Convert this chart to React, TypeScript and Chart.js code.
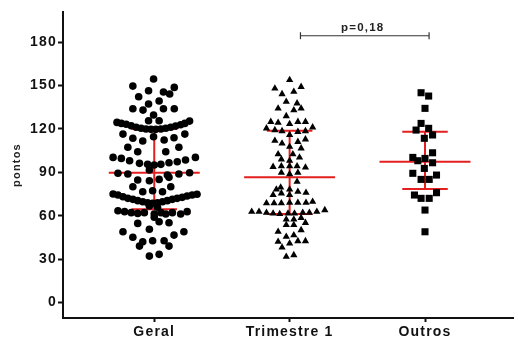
import { useEffect, useRef } from 'react';
import { Chart, registerables } from 'chart.js';

Chart.register(...registerables);

const categories = ['Geral', 'Trimestre 1', 'Outros'];
const yTicks = [0, 30, 60, 90, 120, 150, 180];
const yAxisTitle = 'pontos';

const geralValues = [
  154.5, 149.6, 148.7, 146.4, 145.5, 144.1, 142.2, 139.3, 137.2, 133.9, 133.0, 133.9, 133.9, 129.6, 125.6, 125.6,
  124.5, 123.8, 123.2, 122.2, 121.1, 120.4, 119.9, 119.7, 119.7, 119.9, 120.4, 121.1, 122.0, 122.9, 123.8, 125.4,
  116.4, 113.5, 111.6, 114.6, 112.3, 113.9, 116.4,
  107.3, 104.2, 104.2, 107.3,
  100.3, 99.6, 98.0, 96.2, 95.5, 95.0, 95.5, 96.6, 97.3, 98.5, 100.3,
  91.6, 89.3, 88.8, 88.1, 88.8, 89.7,
  84.7, 84.2, 85.1, 86.5,
  80.0, 76.6, 77.3, 76.6, 80.0,
  75.0, 74.3, 73.1, 72.0, 71.3, 70.4, 69.7, 69.0, 68.6, 69.0, 69.7, 70.4, 71.3, 72.0, 72.7, 73.6, 74.3, 74.8,
  66.7, 65.8,
  63.4, 62.8, 62.1, 61.6, 62.1, 61.2, 62.1, 61.2, 62.1, 61.2, 62.8,
  58.9,
  54.7, 55.8, 55.1,
  50.6, 48.9, 48.9,
  45.1, 46.6,
  42.0, 42.7, 42.7,
  39.0, 39.0,
  32.1, 33.3,
];
const geralJitter = [
  -0.005, -0.158, 0.148, -0.042, 0.068, 0.114, -0.115, 0.036, -0.042, -0.158, -0.083, 0.068, 0.148, -0.005, -0.042, 0.036,
  -0.275, -0.243, -0.207, -0.170, -0.134, -0.097, -0.061, -0.024, 0.012, 0.049, 0.085, 0.122, 0.158, 0.195, 0.226, 0.261,
  -0.231, -0.158, -0.085, -0.005, 0.073, 0.146, 0.226,
  -0.195, -0.122, 0.085, 0.182,
  -0.304, -0.243, -0.182, -0.109, -0.049, 0.0, 0.049, 0.109, 0.170, 0.231, 0.304,
  -0.036, -0.268, -0.195, 0.097, 0.182, 0.261,
  -0.122, -0.036, 0.036, 0.109,
  -0.158, -0.085, -0.012, 0.061, 0.122,
  -0.304, -0.268, -0.231, -0.195, -0.158, -0.122, -0.085, -0.049, -0.012, 0.024, 0.061, 0.097, 0.134, 0.170, 0.207, 0.243, 0.280, 0.316,
  -0.036, 0.024,
  -0.268, -0.219, -0.170, -0.122, -0.073, 0.0, 0.049, 0.085, 0.134, 0.195, 0.243,
  0.0,
  -0.122, 0.036, 0.109,
  -0.036, -0.231, 0.219,
  -0.158, 0.146,
  -0.085, -0.012, 0.073,
  -0.109, 0.109,
  -0.036, 0.036,
];

const trimestreValues = [
  153.8, 148.0, 149.1, 144.1, 145.7, 138.8, 137.7, 134.2, 133.0, 134.2, 128.9,
  124.9, 124.3, 123.4, 124.9, 124.9,
  120.4, 119.2, 118.5, 118.0, 118.5, 121.1,
  111.8, 110.0, 115.8, 111.1, 112.8, 107.7, 106.6,
  102.6, 102.6, 100.3, 99.0, 98.0,
  93.8, 94.3, 94.3, 94.3, 93.4,
  89.7, 88.8, 89.7, 83.5,
  78.2, 79.6, 78.2, 76.6, 75.9, 74.3, 75.5, 74.3,
  68.6, 68.6, 68.6, 69.0, 69.0, 69.0, 69.7,
  62.8, 62.8, 62.1, 61.6, 61.2, 61.6, 61.6, 62.1, 62.1, 62.8, 63.9,
  57.5, 57.5, 58.5,
  55.1, 53.6, 53.6, 48.9, 45.5, 46.6, 50.1, 42.0, 40.9, 42.5, 42.5, 38.1, 31.7, 32.8,
];
const trimestreJitter = [
  0.0, -0.109, 0.085, -0.056, 0.031, -0.025, 0.055, -0.085, 0.031, 0.085, -0.025,
  -0.139, -0.085, 0.0, 0.061, 0.117,
  -0.171, -0.109, -0.056, 0.061, 0.117, 0.170,
  -0.109, -0.056, 0.0, 0.061, 0.117, 0.0, 0.085,
  -0.085, 0.024, 0.073, -0.061, 0.0,
  -0.122, -0.061, 0.0, 0.055, 0.117,
  -0.061, 0.0, 0.061, 0.055,
  -0.098, -0.066, 0.0, 0.061, 0.121, -0.122, -0.061, 0.0,
  -0.171, -0.115, -0.061, 0.0, 0.061, 0.121, 0.170,
  -0.280, -0.226, -0.171, -0.122, -0.073, -0.012, 0.036, 0.097, 0.146, 0.201, 0.260,
  -0.025, 0.031, 0.085,
  0.117, -0.025, 0.031, -0.085, -0.025, 0.031, 0.085, -0.085, 0.0, 0.061, 0.117, -0.056, -0.025, 0.031,
];

const outrosValues = [
  145.0, 142.7, 134.2, 123.8, 119.2, 120.4, 115.8, 113.5, 103.5, 100.3, 98.0, 99.6,
  96.6, 92.7, 89.3, 85.1, 85.1, 88.1, 74.3, 72.0, 72.0, 75.9, 63.9, 48.9,
];
const outrosJitter = [
  -0.029, 0.027, 0.0, -0.029, -0.066, 0.027, 0.056, -0.005, 0.056, -0.090, -0.053, 0.0,
  0.056, -0.005, -0.090, -0.029, 0.031, 0.085, -0.078, -0.029, 0.031, 0.085, 0.0, 0.0,
];

const means = [89.7, 86.5, 97.3];
const upperBars = [120.0, 118.7, 118.0];
const lowerBars = [64.4, 61.2, 78.4];

const pLabel = 'p=0,18';
const pLabelCenter = 1.54;
const bracketFrom = 1.08;
const bracketTo = 2.03;
const bracketY = 184.4;

const RED = '#e41f1f';
const MEAN_HALF = 0.336;
const BAR_HALF = 0.168;

function seg(x1: number, y1: number, x2: number, y2: number, color: string, width: number) {
  return {
    type: 'scatter' as const,
    data: [{ x: x1, y: y1 }, { x: x2, y: y2 }],
    showLine: true,
    borderColor: color,
    borderWidth: width,
    pointRadius: 0,
    pointHoverRadius: 0,
    order: 2,
  };
}

export default function App() {
  const ref = useRef<HTMLCanvasElement | null>(null);

  useEffect(() => {
    if (!ref.current) return;
    const groups = [
      { v: geralValues, j: geralJitter, style: 'circle', r: 3.8 },
      { v: trimestreValues, j: trimestreJitter, style: 'triangle', r: 4.2 },
      { v: outrosValues, j: outrosJitter, style: 'rect', r: 5 },
    ];
    const datasets: any[] = groups.map((g, i) => ({
      type: 'scatter',
      label: categories[i],
      data: g.v.map((y, k) => ({ x: i + g.j[k], y })),
      pointStyle: g.style,
      pointRadius: g.r,
      pointBackgroundColor: '#000',
      pointBorderWidth: 0,
      order: 0,
    }));
    categories.forEach((_, i) => {
      datasets.push(seg(i - MEAN_HALF, means[i], i + MEAN_HALF, means[i], RED, 2));
      datasets.push(seg(i - BAR_HALF, upperBars[i], i + BAR_HALF, upperBars[i], RED, 2));
      datasets.push(seg(i - BAR_HALF, lowerBars[i], i + BAR_HALF, lowerBars[i], RED, 2));
      datasets.push(seg(i, lowerBars[i], i, upperBars[i], RED, 2));
    });
    datasets.push(seg(bracketFrom, bracketY, bracketTo, bracketY, '#333', 1.2));
    datasets.push(seg(bracketFrom, bracketY - 2.4, bracketFrom, bracketY + 2.4, '#333', 1.2));
    datasets.push(seg(bracketTo, bracketY - 2.4, bracketTo, bracketY + 2.4, '#333', 1.2));

    const textPlugin = {
      id: 'ptext',
      beforeDraw(chart: any) {
        chart.ctx.letterSpacing = '1.2px';
      },
      afterDatasetsDraw(chart: any) {
        const { ctx, scales } = chart;
        ctx.save();
        ctx.font = 'bold 11.5px "Liberation Sans", Arial, sans-serif';
        ctx.fillStyle = '#222';
        ctx.textAlign = 'center';
        ctx.textBaseline = 'alphabetic';
        ctx.fillText(pLabel, scales.x.getPixelForValue(pLabelCenter), scales.y.getPixelForValue(bracketY) - 5);
        ctx.restore();
      },
    };

    const chart = new Chart(ref.current, {
      type: 'scatter',
      data: { datasets },
      options: {
        animation: false,
        responsive: false,
        events: [],
        layout: { padding: { top: 12, right: -6, left: 0, bottom: 0 } },
        plugins: { legend: { display: false }, tooltip: { enabled: false } },
        scales: {
          x: {
            type: 'linear',
            min: -0.674,
            max: 2.65,
            afterBuildTicks: (s: any) => {
              s.ticks = categories.map((_, i) => ({ value: i }));
            },
            afterFit: (s: any) => {
              s.height = 21;
            },
            ticks: {
              callback: (v: any) => categories[v as number] ?? '',
              font: { family: '"Liberation Sans", Arial, sans-serif', size: 14, weight: 'bold' },
              color: '#111',
              padding: 2,
              maxRotation: 0,
              autoSkip: false,
            },
            grid: { drawOnChartArea: false, drawTicks: true, tickLength: 4, tickColor: '#111', tickWidth: 2 },
            border: { display: true, color: '#111', width: 2 },
          },
          y: {
            type: 'linear',
            min: -10.7,
            max: 200.8,
            afterBuildTicks: (s: any) => {
              s.ticks = yTicks.map((v) => ({ value: v }));
            },
            afterFit: (s: any) => {
              s.width = 63;
            },
            ticks: {
              font: { family: '"Liberation Sans", Arial, sans-serif', size: 14, weight: 'bold' },
              color: '#111',
              padding: 1,
            },
            grid: { drawOnChartArea: false, drawTicks: true, tickLength: 5, tickColor: '#111', tickWidth: 2 },
            border: { display: true, color: '#111', width: 2 },
            title: {
              display: true,
              text: yAxisTitle,
              font: { family: '"Liberation Sans", Arial, sans-serif', size: 11, weight: 'bold' },
              color: '#222',
              padding: { top: 10, bottom: 0 },
            },
          },
        },
      },
      plugins: [textPlugin],
    } as any);
    return () => chart.destroy();
  }, []);

  return (
    <div style={{ position: 'fixed', left: 0, top: 0, width: 518, height: 339, background: '#fff' }}>
      <canvas ref={ref} width={518} height={339} style={{ display: 'block' }} />
    </div>
  );
}
